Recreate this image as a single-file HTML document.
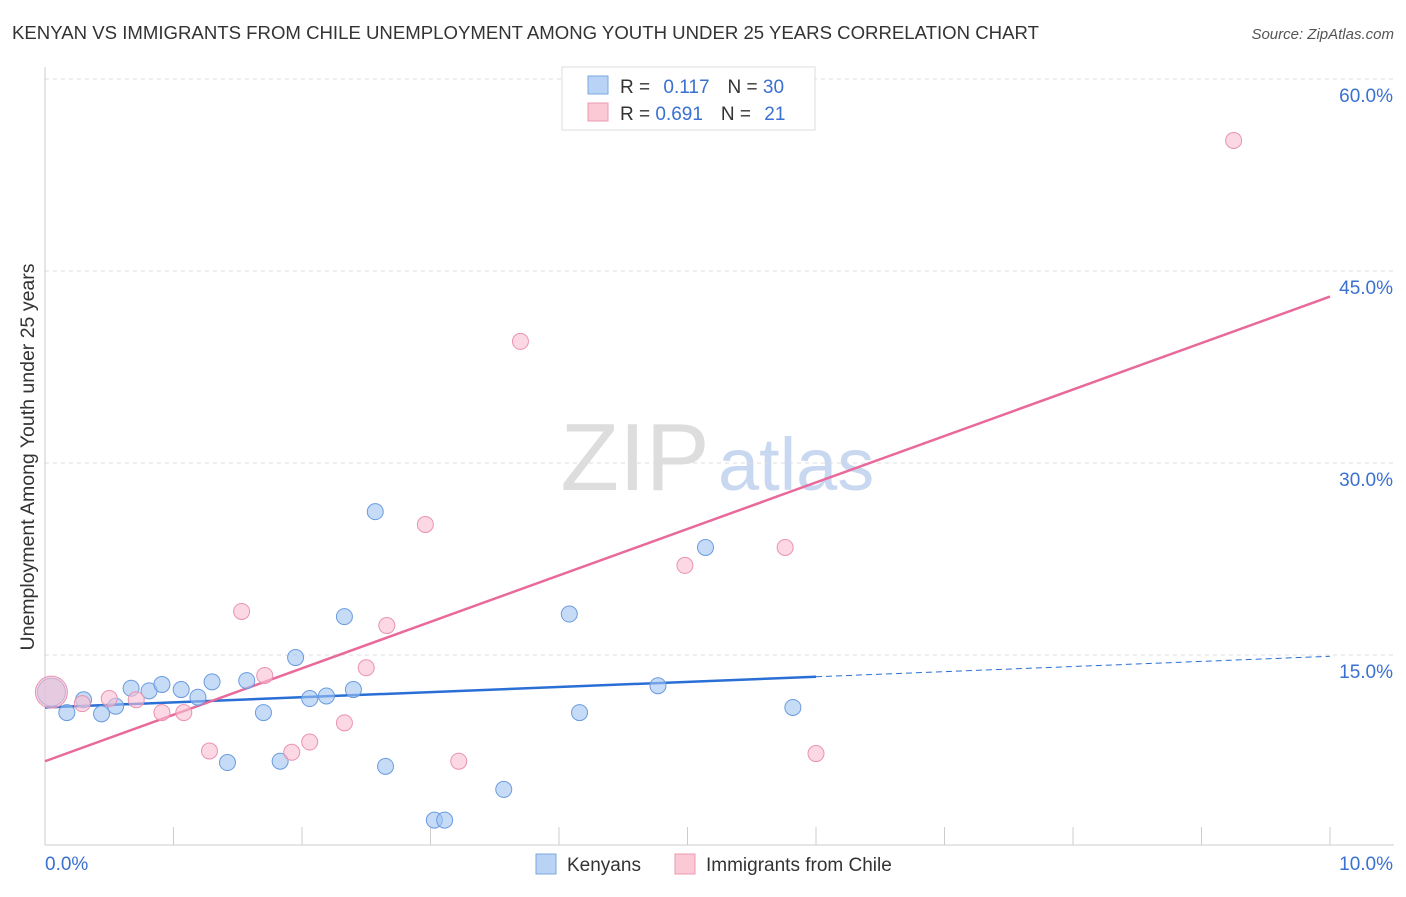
<!DOCTYPE html>
<html><head><meta charset="utf-8"><style>
body{margin:0;background:#fff;font-family:"Liberation Sans",sans-serif}
svg text{font-family:"Liberation Sans",sans-serif}
</style></head><body>
<svg width="1406" height="892">
<text x="12" y="39" font-size="18.6" fill="#333">KENYAN VS IMMIGRANTS FROM CHILE UNEMPLOYMENT AMONG YOUTH UNDER 25 YEARS CORRELATION CHART</text>
<text x="1394" y="39" font-size="15" fill="#555" text-anchor="end" font-style="italic">Source: ZipAtlas.com</text>
<text x="34" y="457" font-size="19.5" fill="#333" text-anchor="middle" transform="rotate(-90 34 457)">Unemployment Among Youth under 25 years</text>
<text x="635" y="490" font-size="96" fill="#ddd" text-anchor="middle" font-family="Liberation Serif">ZIP</text>
<text x="718" y="490" font-size="74" fill="#c8d8f0">atlas</text>
<g id="grid"></g><g id="axes"></g><g id="lines"></g><g id="pts"></g>
<g>
<rect x="562" y="67" width="253" height="63" fill="#fff" stroke="#ddd"/>
<rect x="588" y="76" width="20" height="18" fill="#b8d3f5" stroke="#7aa8e0"/>
<rect x="588" y="103" width="20" height="18" fill="#fbc8d6" stroke="#ee9ab2"/>
<text x="620" y="93" font-size="19" fill="#333">R = <tspan fill="#3a70d0" dx="8">0.117</tspan><tspan fill="#333" dx="18">N = </tspan><tspan fill="#3a70d0">30</tspan></text>
<text x="620" y="120" font-size="19" fill="#333">R = <tspan fill="#3a70d0">0.691</tspan><tspan fill="#333" dx="18">N = </tspan><tspan fill="#3a70d0" dx="8">21</tspan></text>
</g>
<g>
<rect x="536" y="854" width="20" height="20" fill="#b8d3f5" stroke="#7aa8e0"/>
<text x="567" y="871" font-size="19" fill="#333">Kenyans</text>
<rect x="675" y="854" width="20" height="20" fill="#fbc8d6" stroke="#ee9ab2"/>
<text x="706" y="871" font-size="19" fill="#333">Immigrants from Chile</text>
</g>
</svg>
<script>
const blueX=[0.05,0.17,0.30,0.44,0.55,0.67,0.81,0.91,1.06,1.19,1.30,1.42,1.57,1.70,1.83,1.95,2.06,2.19,2.33,2.40,2.57,2.65,3.03,3.11,3.57,4.08,4.16,4.77,5.14,5.82];
const blueY=[12.1,10.5,11.5,10.4,11.0,12.4,12.2,12.7,12.3,11.7,12.9,6.6,13.0,10.5,6.7,14.8,11.6,11.8,18.0,12.3,26.2,6.3,2.1,2.1,4.5,18.2,10.5,12.6,23.4,10.9];
const pinkX=[0.05,0.29,0.50,0.71,0.91,1.08,1.28,1.53,1.71,1.92,2.06,2.33,2.50,2.66,2.96,3.22,3.70,4.98,5.76,6.00,9.25];
const pinkY=[12.1,11.2,11.6,11.5,10.5,10.5,7.5,18.4,13.4,7.4,8.2,9.7,14.0,17.3,25.2,6.7,39.5,22.0,23.4,7.3,55.2];
const yTicks=[15,30,45,60];
const xTickLabels=["0.0%","10.0%"];
const blueTrend=[10.9,14.9];
const pinkTrend=[6.7,43.0];
const sx=v=>45+v*128.5, sy=v=>847-v*12.8;
const NS="http://www.w3.org/2000/svg";
function mk(p,t,a){const e=document.createElementNS(NS,t);for(const k in a)e.setAttribute(k,a[k]);document.getElementById(p).appendChild(e);return e;}
yTicks.forEach(t=>{
 const l=mk('grid','line',{x1:45,x2:1394,y1:sy(t),y2:sy(t),stroke:'#ddd','stroke-dasharray':'4,4'});
 
 
 const tx=mk('grid','text',{x:1393,y:sy(t)+23,'font-size':19,fill:'#3a70d0','text-anchor':'end'});
 tx.textContent=t.toFixed(1)+'%';
 
 
});
mk('axes','line',{x1:45,x2:45,y1:67,y2:845,stroke:'#ccc'});
mk('axes','line',{x1:45,x2:1394,y1:845,y2:845,stroke:'#ccc'});
for(let i=1;i<=10;i++){const l=mk('axes','line',{x1:sx(i),x2:sx(i),y1:827,y2:845,stroke:'#ccc'});}
[[0,'start',45],[10,'end',1393]].forEach((d,i)=>{const t=mk('axes','text',{x:d[2],y:870,'font-size':19,fill:'#3a70d0','text-anchor':d[1]});t.textContent=xTickLabels[i];});
const bAt=x=>blueTrend[0]+(blueTrend[1]-blueTrend[0])*x/10;
let l=mk('lines','line',{x1:sx(0),y1:sy(bAt(0)),x2:sx(6),y2:sy(bAt(6)),stroke:'#2a6fd6','stroke-width':2.5});


l=mk('lines','line',{x1:sx(6),y1:sy(bAt(6)),x2:sx(10),y2:sy(bAt(10)),stroke:'#2a6fd6','stroke-width':1,'stroke-dasharray':'6,4'});


l=mk('lines','line',{x1:sx(0),y1:sy(pinkTrend[0]),x2:sx(10),y2:sy(pinkTrend[1]),stroke:'#e8699a','stroke-width':2.5});


blueX.forEach((x,i)=>{const c=mk('pts','circle',{cx:sx(x),cy:sy(blueY[i]),r:i==0?14:8,fill:'rgba(160,195,240,0.6)',stroke:'#6a9be0','stroke-width':1});
 
 });
pinkX.forEach((x,i)=>{const c=mk('pts','circle',{cx:sx(x),cy:sy(pinkY[i]),r:i==0?16:8,fill:'rgba(250,190,210,0.6)',stroke:'#ea92b0','stroke-width':1});
 
 });
</script>
</body></html>
